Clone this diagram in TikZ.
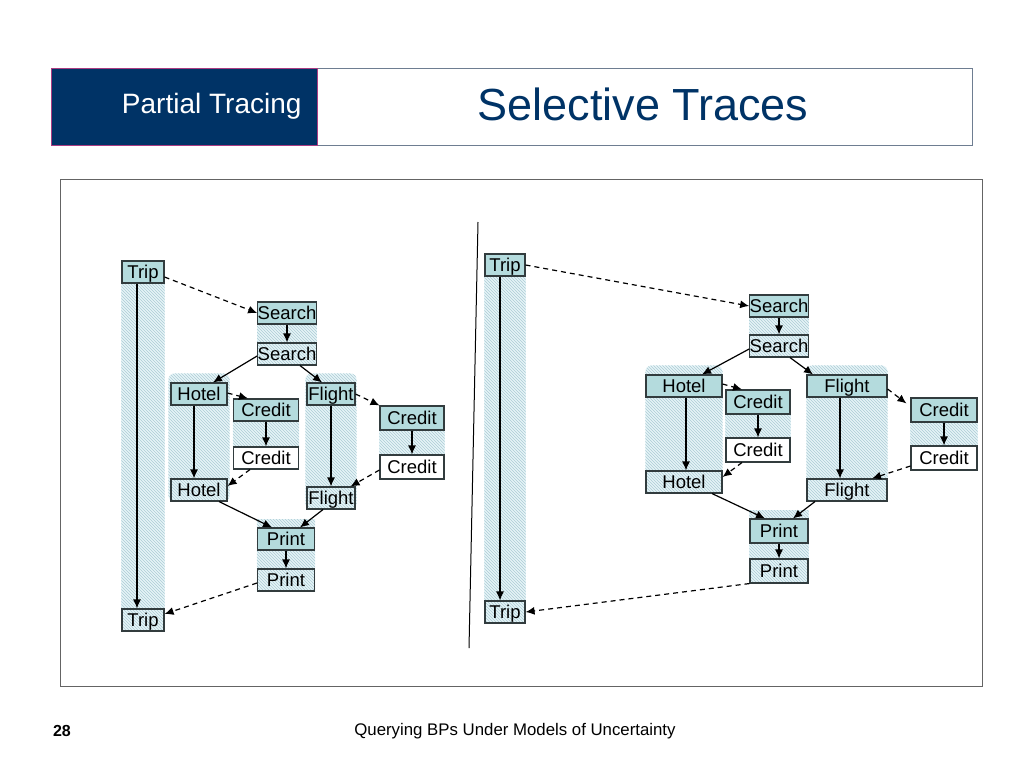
\documentclass[tikz,border=0pt]{standalone}
\usepackage{fontspec}
\setmainfont{Liberation Sans}
\usepackage{xcolor}
\usepackage{tikz}
\usetikzlibrary{arrows.meta, fit, backgrounds, patterns}

\definecolor{headblue}{RGB}{0,51,102}
\definecolor{headline}{RGB}{110,125,145}
\definecolor{headpink}{RGB}{170,60,130}
\definecolor{framegray}{RGB}{100,100,100}
\definecolor{boxfill}{RGB}{180,219,221}
\definecolor{boxline}{RGB}{50,60,62}
\definecolor{tracebg}{RGB}{230,244,247}
\definecolor{tracehatch}{RGB}{172,204,214}

\begin{document}
\begin{tikzpicture}[x=1pt, y=-1pt,
  task/.style={draw=boxline, line width=1.1pt, minimum height=22pt, inner sep=0pt,
    text height=13pt, text depth=1pt, font=\fontsize{18.5}{18.5}\selectfont},
  start/.style={task, fill=boxfill},
  finish/.style={task},
  trace/.style={inner sep=0pt, fill=tracebg, postaction={pattern=north west lines, pattern color=tracehatch}},
  flow/.style={line width=1.2pt, -{Latex[length=9pt,width=8pt]}},
  call/.style={flow, dash pattern=on 5pt off 4pt}]
\useasboundingbox (0,0) rectangle (1024,768);

% header
\draw[headline, line width=1pt] (51,68) rectangle (972,145);
\fill[headblue] (51,68) rectangle (317,145);
\draw[headpink, line width=0.6pt] (51,68) rectangle (317,145);
\node[anchor=east, text=white, font=\fontsize{28}{28}\selectfont] (part) at (305,106) {Partial Tracing};
\node[text=headblue, font=\fontsize{45}{45}\selectfont] (title) at (643,104) {Selective Traces};

% frame and divider
\draw[framegray, line width=0.8pt] (60,179) rectangle (982,686);
\draw[line width=1pt] (478,222) -- (469,648);

% left trace
\node[start, minimum width=42pt] (tripA) at (143,272) {Trip};
\node[finish, minimum width=42pt] (tripB) at (143,620) {Trip};
\node[start, minimum width=58pt] (srchA) at (287,313) {Search};
\node[finish, minimum width=58pt] (srchB) at (287,354) {Search};
\node[start, minimum width=56pt] (hotA) at (199,394) {Hotel};
\node[finish, minimum width=56pt] (hotB) at (199,490) {Hotel};
\node[start, minimum width=65pt] (crdA) at (266,410) {Credit};
\node[finish, minimum width=65pt] (crdB) at (266,458) {Credit};
\node[start, minimum width=48pt] (fltA) at (331,394) {Flight};
\node[finish, minimum width=48pt] (fltB) at (331,498) {Flight};
\node[start, minimum width=64pt, minimum height=24pt] (cdtA) at (412,418) {Credit};
\node[finish, minimum width=64pt, minimum height=24pt] (cdtB) at (412,467) {Credit};
\node[start, minimum width=57pt] (prnA) at (286,539) {Print};
\node[finish, minimum width=57pt] (prnB) at (286,580) {Print};
\coordinate (hotTop) at ([yshift=9pt]hotA.north);
\coordinate (fltTop) at ([yshift=9pt]fltA.north);
\coordinate (prnTop) at ([yshift=8pt]prnA.north);

\draw[call] ([yshift=-5pt]tripA.east) -- (srchA.west);
\draw[flow] (srchA) -- (srchB);
\draw[flow] ([yshift=-2pt]srchB.west) -- ([xshift=14pt]hotA.north);
\draw[flow] ([xshift=13pt]srchB.south) -- ([xshift=-9pt]fltA.north);
\draw[call] ([yshift=1pt]hotA.east) -- ([xshift=-18pt]crdA.north);
\draw[flow] (crdA) -- (crdB);
\draw[call] ([xshift=-16pt]crdB.south) -- ([yshift=4pt]hotB.east);
\draw[flow] ([xshift=-5pt]hotA.south) -- ([xshift=-5pt]hotB.north);
\draw[call] (fltA.east) -- (cdtA.north west);
\draw[flow] (fltA) -- (fltB);
\draw[flow] (cdtA) -- (cdtB);
\draw[call] ([yshift=-3pt]cdtB.west) -- ([xshift=-5pt]fltB.north east);
\draw[flow] ([xshift=20pt]hotB.south) -- ([xshift=-14pt]prnA.north);
\draw[flow] ([xshift=-8pt]fltB.south) -- ([xshift=14pt]prnA.north);
\draw[flow] (prnA) -- (prnB);
\draw[call] ([yshift=-3pt]prnB.west) -- ([yshift=6pt]tripB.east);
\draw[flow] ([xshift=-6pt]tripA.south) -- ([xshift=-6pt]tripB.north);

% right trace
\node[start, minimum width=40pt] (rtripA) at (505,265) {Trip};
\node[finish, minimum width=40pt] (rtripB) at (505,612) {Trip};
\node[start, minimum width=58pt] (rsrchA) at (779,306) {Search};
\node[finish, minimum width=58pt] (rsrchB) at (779,346) {Search};
\node[start, minimum width=76pt] (rhotA) at (684,386) {Hotel};
\node[finish, minimum width=76pt] (rhotB) at (684,482) {Hotel};
\node[start, minimum width=64pt, minimum height=24pt] (rcrdA) at (758,402) {Credit};
\node[finish, minimum width=64pt, minimum height=24pt] (rcrdB) at (758,450) {Credit};
\node[start, minimum width=80pt] (rfltA) at (847,386) {Flight};
\node[finish, minimum width=80pt] (rfltB) at (847,490) {Flight};
\node[start, minimum width=66pt, minimum height=24pt] (rcdtA) at (944,410) {Credit};
\node[finish, minimum width=66pt, minimum height=24pt] (rcdtB) at (944,458) {Credit};
\node[start, minimum width=58pt, minimum height=24pt] (rprnA) at (779,531) {Print};
\node[finish, minimum width=58pt, minimum height=24pt] (rprnB) at (779,571) {Print};
\coordinate (rhotTop) at ([yshift=9pt]rhotA.north);
\coordinate (rfltTop) at ([yshift=9pt]rfltA.north);
\coordinate (rprnTop) at ([yshift=8pt]rprnA.north);

\draw[call] (rtripA.east) -- (rsrchA.west);
\draw[flow] (rsrchA) -- (rsrchB);
\draw[flow] ([yshift=-3pt]rsrchB.west) -- ([xshift=18pt]rhotA.north);
\draw[flow] ([xshift=11pt]rsrchB.south) -- ([xshift=-34pt]rfltA.north);
\draw[call] ([yshift=2pt]rhotA.east) -- ([xshift=-16pt]rcrdA.north);
\draw[flow] (rcrdA) -- (rcrdB);
\draw[call] ([xshift=-16pt]rcrdB.south) -- ([yshift=5pt]rhotB.east);
\draw[flow] ([xshift=2pt]rhotA.south) -- ([xshift=2pt]rhotB.north);
\draw[call] ([yshift=-3pt]rfltA.east) -- ([xshift=-4pt,yshift=-6pt]rcdtA.north west);
\draw[flow] ([xshift=-7pt]rfltA.south) -- ([xshift=-7pt]rfltB.north);
\draw[flow] (rcdtA) -- (rcdtB);
\draw[call] ([yshift=-8pt]rcdtB.west) -- ([xshift=25pt]rfltB.north);
\draw[flow] ([xshift=28pt]rhotB.south) -- ([xshift=-14pt]rprnA.north);
\draw[flow] ([xshift=-32pt]rfltB.south) -- ([xshift=14pt]rprnA.north);
\draw[flow] (rprnA) -- (rprnB);
\draw[call] (rprnB.south west) -- (rtripB.east);
\draw[flow] ([xshift=-5pt]rtripA.south) -- ([xshift=-5pt]rtripB.north);

% hatched trace regions
\begin{scope}[on background layer]
\node[trace, fit=(tripA)(tripB)] (trTrip) {};
\node[trace, fit=(srchA)(srchB)] (trSrch) {};
\node[trace, inner xsep=2pt, rounded corners=6pt, fit=(hotTop)(hotA)(hotB)] (trHot) {};
\node[trace, fit=(crdA)(crdB.north)] (trCrd) {};
\node[trace, inner xsep=1pt, rounded corners=6pt, fit=(fltTop)(fltA)(fltB)] (trFlt) {};
\node[trace, fit=(cdtA)(cdtB.north)] (trCdt) {};
\node[trace, fit=(prnTop)(prnA)(prnB)] (trPrn) {};
\node[trace, fit=(rtripA)(rtripB)] (rtrTrip) {};
\node[trace, fit=(rsrchA)(rsrchB)] (rtrSrch) {};
\node[trace, rounded corners=6pt, fit=(rhotTop)(rhotA)(rhotB)] (rtrHot) {};
\node[trace, fit=(rcrdA)(rcrdB.north)] (rtrCrd) {};
\node[trace, rounded corners=6pt, fit=(rfltTop)(rfltA)(rfltB)] (rtrFlt) {};
\node[trace, fit=(rcdtA)(rcdtB.north)] (rtrCdt) {};
\node[trace, fit=(rprnTop)(rprnA)(rprnB)] (rtrPrn) {};
\end{scope}

% footer
\node[font=\bfseries\fontsize{16}{16}\selectfont] (page) at (62,731) {28};
\node[font=\fontsize{16.8}{16.8}\selectfont] (foot) at (515,731) {Querying BPs Under Models of Uncertainty};
\end{tikzpicture}
\end{document}
